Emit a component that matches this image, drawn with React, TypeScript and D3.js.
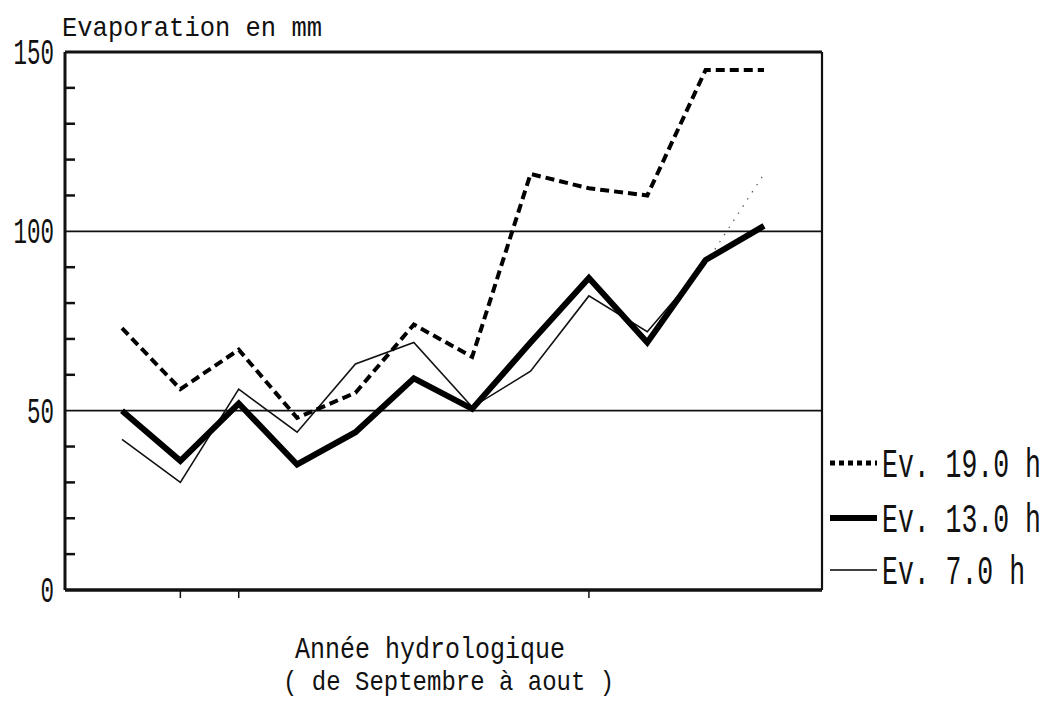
import React, { useRef, useEffect } from "react";
import * as d3 from "d3";

// Sept .. August (année hydrologique)
const months = ["sep", "oct", "nov", "dec", "jan", "fev", "mar", "avr", "mai", "jun", "jul", "aou"];
const ev19 = [73, 56, 67, 48, 55, 74, 65, 116, 112, 110, 145, 145];
const ev13 = [50, 36, 52, 35, 44, 59, 50.5, 69, 87, 69, 92, 101.5];
const ev7 = [42, 30, 56, 44, 63, 69, 51, 61, 82, 72, 91, 116];
const yLabels = [0, 50, 100, 150];
const gridValues = [50, 100];
const xTickMonths = ["oct", "nov", "mai"];

const W = 1044;
const H = 704;

export default function App() {
  const svgRef = useRef<SVGSVGElement>(null);

  useEffect(() => {
    if (!svgRef.current) return;
    const svg = d3.select(svgRef.current);
    svg.selectAll("*").remove();

    const left = 65;
    const right = 822;
    const top = 52;
    const bottom = 590;

    const x = d3.scalePoint<string>().domain(months).range([122, 764]);
    const y = d3.scaleLinear().domain([0, 150]).range([bottom, top]);

    const font = "'Liberation Mono', 'DejaVu Sans Mono', monospace";
    const stretchText = (
      tx: number,
      ty: number,
      str: string,
      size: number,
      sy: number,
      anchor = "start"
    ) => {
      svg
        .append("text")
        .attr("transform", `translate(${tx},${ty}) scale(1,${sy})`)
        .attr("font-family", font)
        .attr("font-size", size)
        .attr("text-anchor", anchor)
        .attr("fill", "#111")
        .text(str);
    };

    // gridlines
    svg
      .selectAll(".grid")
      .data(gridValues)
      .join("line")
      .attr("x1", left)
      .attr("x2", right)
      .attr("y1", (d) => y(d))
      .attr("y2", (d) => y(d))
      .attr("stroke", "#111")
      .attr("stroke-width", 1.6);

    // frame
    const frame = svg.append("g").attr("stroke", "#111").attr("fill", "none");
    frame.append("line").attr("x1", left).attr("x2", right).attr("y1", top).attr("y2", top).attr("stroke-width", 3);
    frame.append("line").attr("x1", left).attr("x2", left).attr("y1", top).attr("y2", bottom).attr("stroke-width", 3);
    frame.append("line").attr("x1", right).attr("x2", right).attr("y1", top).attr("y2", bottom).attr("stroke-width", 2.2);
    frame.append("line").attr("x1", left).attr("x2", right).attr("y1", bottom).attr("y2", bottom).attr("stroke-width", 3.5);

    // y minor ticks every 10
    svg
      .selectAll(".ytick")
      .data(d3.range(10, 150, 10).filter((v) => v % 50 !== 0))
      .join("line")
      .attr("x1", left)
      .attr("x2", left + 10)
      .attr("y1", (d) => y(d))
      .attr("y2", (d) => y(d))
      .attr("stroke", "#111")
      .attr("stroke-width", 2.5);

    // x ticks
    svg
      .selectAll(".xtick")
      .data(xTickMonths)
      .join("line")
      .attr("x1", (d) => x(d)!)
      .attr("x2", (d) => x(d)!)
      .attr("y1", bottom)
      .attr("y2", bottom + 8)
      .attr("stroke", "#111")
      .attr("stroke-width", 1.5);

    // y labels
    yLabels.forEach((v) => {
      stretchText(54, y(v) + 12, String(v), 22.5, 1.65, "end");
    });

    // titles
    stretchText(62, 36, "Evaporation en mm", 25.5, 1.1);
    stretchText(295, 658, "Année hydrologique", 25, 1.15);
    stretchText(283, 690, "( de Septembre à aout )", 24, 1.15);

    const line = d3
      .line<number>()
      .x((_, i) => x(months[i])!)
      .y((d) => y(d));

    // 7 h thin line (last segment faint in the original)
    svg
      .append("path")
      .attr("d", line(ev7.slice(0, 11)))
      .attr("fill", "none")
      .attr("stroke", "#111")
      .attr("stroke-width", 1.6);
    svg
      .append("path")
      .attr("d", `M${x(months[10])},${y(ev7[10])}L${x(months[11])},${y(ev7[11])}`)
      .attr("fill", "none")
      .attr("stroke", "#555")
      .attr("stroke-width", 1.2)
      .attr("stroke-dasharray", "1.5 7");

    // 13 h thick line
    svg
      .append("path")
      .attr("d", line(ev13))
      .attr("fill", "none")
      .attr("stroke", "#000")
      .attr("stroke-width", 6)
      .attr("stroke-linejoin", "miter");

    // 19 h dashed line
    svg
      .append("path")
      .attr("d", line(ev19))
      .attr("fill", "none")
      .attr("stroke", "#000")
      .attr("stroke-width", 4)
      .attr("stroke-dasharray", "9 5");

    // legend
    const legend = [
      { label: "Ev. 19.0 h", y: 463, width: 5, dash: "5 4" },
      { label: "Ev. 13.0 h", y: 518, width: 6, dash: null },
      { label: "Ev. 7.0 h", y: 570, width: 1.6, dash: null },
    ];
    legend.forEach((l) => {
      const ln = svg
        .append("line")
        .attr("x1", 830)
        .attr("x2", 877)
        .attr("y1", l.y)
        .attr("y2", l.y)
        .attr("stroke", "#000")
        .attr("stroke-width", l.width);
      if (l.dash) ln.attr("stroke-dasharray", l.dash);
      stretchText(882, l.y + 14, l.label, 26.5, 1.5);
    });
  }, []);

  return (
    <svg
      ref={svgRef}
      width={W}
      height={H}
      style={{ position: "absolute", left: 0, top: 0, background: "#fff" }}
    />
  );
}
